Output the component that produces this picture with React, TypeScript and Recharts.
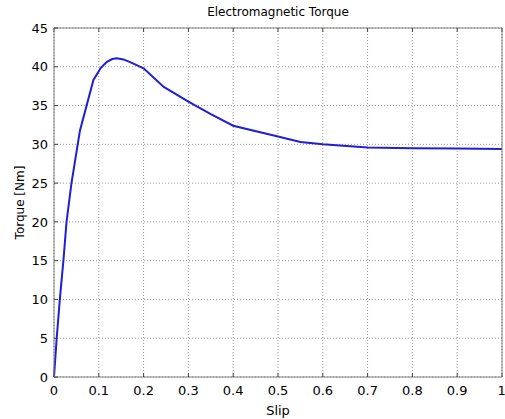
import React from 'react';
import { LineChart, Line, XAxis, YAxis, CartesianGrid } from 'recharts';

const slip = [0, 0.006, 0.013, 0.021, 0.028, 0.039, 0.058, 0.088, 0.105, 0.118, 0.13, 0.14, 0.155, 0.17, 0.2, 0.245, 0.3, 0.35, 0.4, 0.5, 0.55, 0.6, 0.7, 0.8, 0.9, 1.0];
const torque = [0, 5, 10, 15, 20, 25, 31.8, 38.3, 39.9, 40.65, 41.0, 41.1, 40.95, 40.6, 39.8, 37.4, 35.5, 33.9, 32.4, 31.0, 30.3, 30.0, 29.6, 29.5, 29.45, 29.4];
const xTicks = [0, 0.1, 0.2, 0.3, 0.4, 0.5, 0.6, 0.7, 0.8, 0.9, 1];
const yTicks = [0, 5, 10, 15, 20, 25, 30, 35, 40, 45];

const data = slip.map((s, i) => ({ slip: s, torque: torque[i] }));

const FONT = '"DejaVu Sans", Verdana, sans-serif';
const frame = '#7f7f7f';
const tickStyle = { fontSize: 13, fill: '#000', fontFamily: FONT };
const EmptyTick = () => <g />;

export default function App() {
  return (
    <div style={{ position: 'absolute', left: 0, top: 0, width: 505, height: 419, background: '#fff' }}>
      <div
        style={{
          position: 'absolute',
          left: 54,
          width: 448,
          top: 5,
          textAlign: 'center',
          fontFamily: FONT,
          fontSize: 12,
          color: '#000',
        }}
      >
        Electromagnetic Torque
      </div>
      <LineChart width={505} height={419} data={data} margin={{ top: 27, right: 2, left: 0, bottom: 0 }}>
        <CartesianGrid xAxisId="main" yAxisId="main" stroke="#9a9a9a" strokeDasharray="1 2" />
        <XAxis
          xAxisId="main"
          dataKey="slip"
          type="number"
          domain={[0, 1]}
          ticks={xTicks}
          tickFormatter={(v: number) => String(Math.round(v * 10) / 10)}
          height={42}
          tickSize={-4}
          tickMargin={13}
          tick={tickStyle}
          axisLine={{ stroke: frame }}
          tickLine={{ stroke: '#444' }}
          label={{ value: 'Slip', position: 'insideBottom', offset: 4, style: { fontSize: 13, fontFamily: FONT, fill: '#000' } }}
        />
        <XAxis
          xAxisId="top"
          orientation="top"
          dataKey="slip"
          type="number"
          domain={[0, 1]}
          ticks={xTicks}
          height={1}
          tickSize={-4}
          tick={EmptyTick}
          axisLine={{ stroke: frame }}
          tickLine={{ stroke: '#444' }}
        />
        <YAxis
          yAxisId="main"
          type="number"
          domain={[0, 45]}
          ticks={yTicks}
          width={54}
          tickSize={-4}
          tickMargin={10}
          tick={tickStyle}
          axisLine={{ stroke: frame }}
          tickLine={{ stroke: '#444' }}
          label={{
            value: 'Torque [Nm]',
            angle: -90,
            position: 'insideLeft',
            offset: 20,
            style: { textAnchor: 'middle', fontSize: 12, fontFamily: FONT, fill: '#000' },
          }}
        />
        <YAxis
          yAxisId="right"
          orientation="right"
          type="number"
          domain={[0, 45]}
          ticks={yTicks}
          width={1}
          tickSize={-4}
          tick={EmptyTick}
          axisLine={{ stroke: frame }}
          tickLine={{ stroke: '#444' }}
        />
        <Line
          xAxisId="main"
          yAxisId="main"
          type="linear"
          dataKey="torque"
          stroke="#1f1fd6"
          strokeWidth={2}
          dot={false}
          isAnimationActive={false}
        />
      </LineChart>
    </div>
  );
}
